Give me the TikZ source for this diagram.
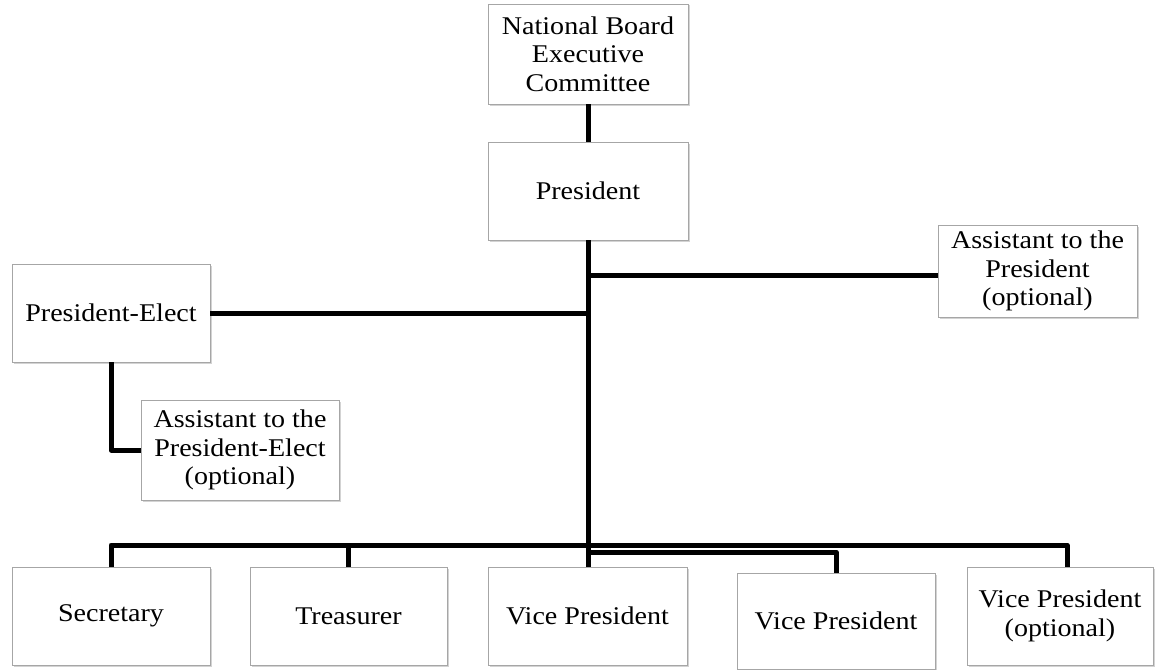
\documentclass[tikz,border=0pt]{standalone}
\usepackage{fontspec}
\setmainfont{Liberation Serif}[FakeStretch=1.1]
\usetikzlibrary{shadows}
\tikzset{
  office/.style={draw=gray!70, fill=white, line width=0.8pt,
    drop shadow={shadow xshift=1.5pt, shadow yshift=-1.5pt, opacity=0.35},
    minimum width=198pt, minimum height=98pt, inner sep=0pt,
    align=center, font=\fontsize{25.5}{28.5}\selectfont},
  link/.style={line width=5pt, black, line join=round}
}
\begin{document}
\begin{tikzpicture}[x=1pt, y=-1pt]
  \useasboundingbox (0,0) rectangle (1156,669);
  % top of the chart
  \node [office, minimum width=200pt, minimum height=100pt] (board) at (588,54) {National Board\\Executive\\Committee};
  \node [office, minimum width=200pt] (pres) at (588,191) {President};
  \node [office, minimum width=199pt, minimum height=92pt] (asstp) at (1037.5,271) {Assistant to the\\President\\(optional)};
  \node [office] (elect) at (111,313) {President-Elect};
  \node [office, minimum height=100pt] (asste) at (240,450) {Assistant to the\\President-Elect\\(optional)};
  % bottom row
  \node [office] (sec) at (111,616) {Secretary};
  \node [office, minimum width=197pt] (treas) at (348.5,616) {Treasurer};
  \node [office, minimum width=199pt] (vpa) at (587.5,616) {Vice President};
  \node [office, minimum height=96pt] (vpb) at (836,621) {Vice President};
  \node [office, minimum width=186pt] (vpc) at (1060,616) {Vice President\\(optional)};
  % connectors
  \coordinate (jp) at (589,275);
  \coordinate (bus) at (589,545);
  \coordinate (bus2) at (589,552);
  \coordinate (vpcin) at ([xshift=7pt]vpc.north);
  \draw [link] (board) -- (pres);
  \draw [link] (pres.south) -- (pres.south |- vpa.north);
  \draw [link] (jp) -- (jp -| asstp.west);
  \draw [link] (elect.east) -- (elect.east -| pres.south);
  \draw [link] (elect.south) |- (asste.west);
  \draw [link] (sec.north) -- (sec.north |- bus) -- (bus -| vpcin) -- (vpcin);
  \draw [link] (treas.north) -- (treas.north |- bus);
  \draw [link] (bus2) -| (vpb.north);
\end{tikzpicture}
\end{document}
